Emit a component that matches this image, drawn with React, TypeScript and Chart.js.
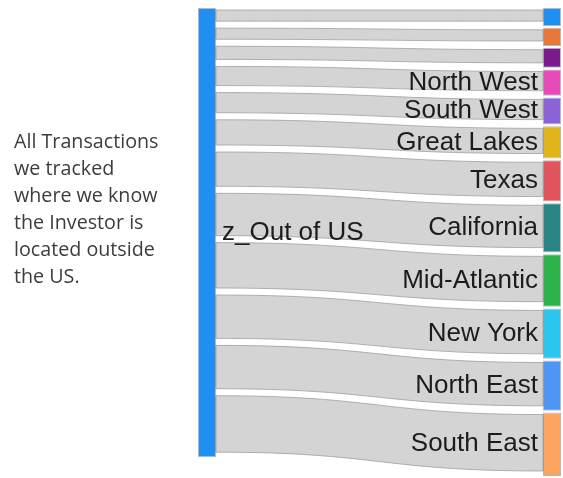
import React, { useEffect, useRef } from 'react';
import { Chart, registerables } from 'chart.js';

Chart.register(...registerables);

// ---- data ----
const sourceName = 'z_Out of US';
const targetNames = ['', '', '', 'North West', 'South West', 'Great Lakes', 'Texas', 'California', 'Mid-Atlantic', 'New York', 'North East', 'South East'];
const flowValues = [18, 18, 20, 26, 27, 32, 41, 49, 52, 50, 50, 63];
const sourceColor = '#1F8FF2';
const targetColors = ['#1F8FF2', '#E8773A', '#7B1A8C', '#E64BB8', '#8B63D6', '#E2B41C', '#E0555D', '#2A8585', '#2EB24B', '#2BC6EF', '#4E95F4', '#FDA55E'];
const noteLines = ['All Transactions', 'we tracked', 'where we know', 'the Investor is', 'located outside', 'the US.'];
const nodePadding = 1.7;

const total = flowValues.reduce((a, b) => a + b, 0);
const yMax = total + nodePadding * (flowValues.length - 1);
const leftStarts: number[] = [];
const rightStarts: number[] = [];
{
  let l = 0;
  let r = 0;
  flowValues.forEach((v) => {
    leftStarts.push(l);
    rightStarts.push(r);
    l += v;
    r += v + nodePadding;
  });
}

const LABEL_FONT = '26px "Liberation Sans", Arial, sans-serif';

const sankeyPlugin = {
  id: 'sankeyLinks',
  beforeDatasetsDraw(chart: any) {
    const { ctx } = chart;
    const x = chart.scales.x;
    const y = chart.scales.y;
    const bar = chart.getDatasetMeta(0).data[0];
    const half = bar.getProps(['width'], true).width / 2;
    const xL = x.getPixelForValue(0) + half;
    const xR = x.getPixelForValue(1) - half;
    const xm = (xL + xR) / 2;
    ctx.save();
    flowValues.forEach((v, i) => {
      const l0 = y.getPixelForValue(leftStarts[i]) + 2;
      const l1 = y.getPixelForValue(leftStarts[i] + v) - 5;
      const r0 = y.getPixelForValue(rightStarts[i]) + 2;
      const r1 = y.getPixelForValue(rightStarts[i] + v) - 5;
      ctx.beginPath();
      ctx.moveTo(xL, l0);
      ctx.bezierCurveTo(xm, l0, xm, r0, xR, r0);
      ctx.lineTo(xR, r1);
      ctx.bezierCurveTo(xm, r1, xm, l1, xL, l1);
      ctx.closePath();
      ctx.fillStyle = 'rgb(212,212,212)';
      ctx.fill();
      ctx.lineWidth = 1;
      ctx.strokeStyle = 'rgba(160,160,160,0.8)';
      ctx.stroke();
    });
    ctx.restore();
  },
  afterDatasetsDraw(chart: any) {
    const { ctx } = chart;
    const x = chart.scales.x;
    const y = chart.scales.y;
    const bar = chart.getDatasetMeta(0).data[0];
    const half = bar.getProps(['width'], true).width / 2;
    const xL = x.getPixelForValue(0) + half;
    const xR = x.getPixelForValue(1) - half;
    ctx.save();
    ctx.font = LABEL_FONT;
    ctx.fillStyle = '#1c1c1c';
    ctx.textBaseline = 'middle';
    ctx.textAlign = 'left';
    ctx.fillText(sourceName, xL + 6, y.getPixelForValue(total / 2));
    ctx.textAlign = 'right';
    targetNames.forEach((name, i) => {
      if (!name) return;
      const c = y.getPixelForValue(rightStarts[i] + flowValues[i] / 2);
      ctx.fillText(name, xR - 5, c);
    });
    ctx.restore();
  },
};

export default function App() {
  const canvasRef = useRef<HTMLCanvasElement | null>(null);

  useEffect(() => {
    const canvas = canvasRef.current;
    if (!canvas) return;
    const datasets: any[] = [
      {
        label: sourceName,
        data: [[0, total], null],
        backgroundColor: sourceColor,
        borderColor: 'rgba(0,0,0,0.28)',
      },
      ...flowValues.map((v, i) => ({
        label: targetNames[i] || `target ${i + 1}`,
        data: [null, [rightStarts[i], rightStarts[i] + v]],
        backgroundColor: targetColors[i],
        borderColor: 'rgba(0,0,0,0.28)',
      })),
    ];
    const chart = new Chart(canvas, {
      type: 'bar',
      data: { labels: ['source', 'target'], datasets },
      options: {
        animation: false,
        responsive: true,
        maintainAspectRatio: false,
        layout: { padding: { left: 207, right: 11, top: 8, bottom: 2 } },
        datasets: {
          bar: {
            grouped: false,
            maxBarThickness: 18,
            borderWidth: 1,
            borderSkipped: false,
            clip: false,
          } as any,
        },
        scales: {
          x: { type: 'category', display: false, offset: false },
          y: { type: 'linear', display: false, reverse: true, min: 0, max: yMax },
        },
        plugins: {
          legend: { display: false },
          tooltip: { enabled: false },
        },
      },
      plugins: [sankeyPlugin],
    });
    return () => chart.destroy();
  }, []);

  return (
    <div style={{ position: 'fixed', left: 0, top: 0, width: 563, height: 478, background: '#fff' }}>
      <canvas ref={canvasRef} />
      <div
        style={{
          position: 'absolute',
          left: 14,
          top: 127,
          fontFamily: '"Open Sans", sans-serif',
          fontSize: 19.7,
          lineHeight: '27px',
          color: '#3c3c3c',
          pointerEvents: 'none',
        }}
      >
        {noteLines.map((t, i) => (
          <div key={i}>{t}</div>
        ))}
      </div>
    </div>
  );
}
